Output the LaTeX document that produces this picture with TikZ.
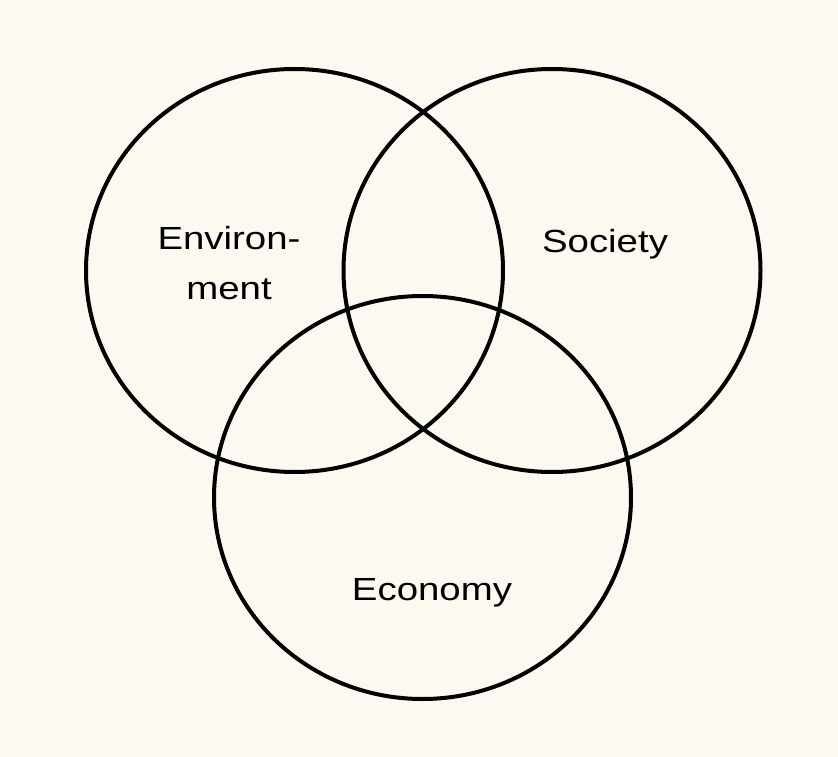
\documentclass[tikz,border=0pt]{standalone}
\usepackage{fontspec}
\setmainfont{Liberation Sans}[FakeStretch=1.2]
\usepackage{tikz}
\definecolor{mycream}{RGB}{252,249,241}

\begin{document}
\begin{tikzpicture}[x=1pt, y=-1pt, font=\fontsize{32}{50}\selectfont]
			% Hintergrund
			\fill[mycream] (0,0) rectangle (838,757);
			\useasboundingbox (0,0) rectangle (838,757);
			% Kreise zeichnen
			\draw[line width=4pt] (294.5,270.5) ellipse [x radius=208.5, y radius=201.5];
			\draw[line width=4pt] (552,270.5) ellipse [x radius=208.5, y radius=201.5];
			\draw[line width=4pt] (422.5,497.5) ellipse [x radius=208.5, y radius=201.5];
			%Beschriftung
			\node[align=center, inner sep=0pt] (env) at (229,263.5) {Environ-\\ment};
			\node[anchor=base, inner sep=0pt] (soc) at (605,252) {Society};
			\node[anchor=base, inner sep=0pt] (eco) at (432,600) {Economy};
		\end{tikzpicture}
\end{document}
